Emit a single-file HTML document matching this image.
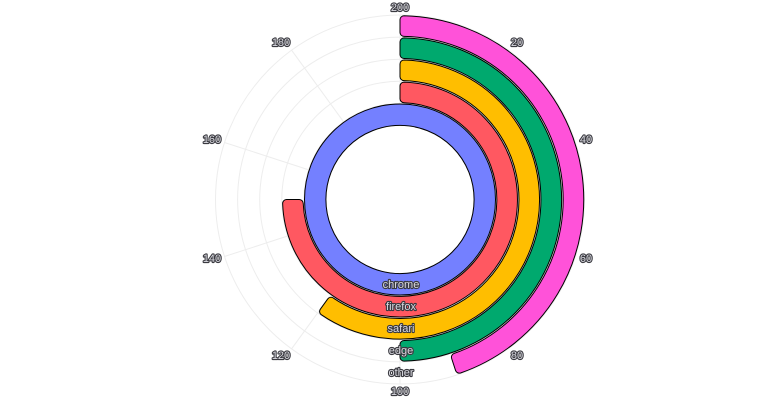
<!DOCTYPE html>
<html>
<head>
<meta charset="utf-8">
<style>
  html, body { margin: 0; padding: 0; background: #ffffff; }
  body { width: 784px; height: 400px; overflow: hidden; }
  svg { display: block; }
  .lbl { font-family: "Liberation Sans", Arial, sans-serif; font-size: 11px; fill: #d9d9e0; stroke: #3a3a40; stroke-width: 2.2px; paint-order: stroke; stroke-linejoin: round; }
</style>
</head>
<body>
<svg width="784" height="400" viewBox="0 0 784 400" xmlns="http://www.w3.org/2000/svg">
  <!-- grid circles -->
  <g fill="none" stroke="#ededed" stroke-width="1">
    <circle cx="400" cy="199.5" r="74"/>
    <circle cx="400" cy="199.5" r="96.1"/>
    <circle cx="400" cy="199.5" r="118.2"/>
    <circle cx="400" cy="199.5" r="140.3"/>
    <circle cx="400" cy="199.5" r="162.4"/>
    <circle cx="400" cy="199.5" r="184.5"/>
  </g>
  <!-- radial split lines every 36deg from r=74 to r=184.5 -->
  <g stroke="#ededed" stroke-width="1">
    <line x1="400" y1="125.5" x2="400" y2="15"/>
    <line x1="443.5" y1="139.6" x2="508.4" y2="50.2"/>
    <line x1="470.4" y1="176.6" x2="575.5" y2="142.5"/>
    <line x1="470.4" y1="222.4" x2="575.5" y2="256.5"/>
    <line x1="443.5" y1="259.4" x2="508.4" y2="348.8"/>
    <line x1="400" y1="273.5" x2="400" y2="384"/>
    <line x1="356.5" y1="259.4" x2="291.6" y2="348.8"/>
    <line x1="329.6" y1="222.4" x2="224.5" y2="256.5"/>
    <line x1="329.6" y1="176.6" x2="224.5" y2="142.5"/>
    <line x1="356.5" y1="139.6" x2="291.6" y2="50.2"/>
  </g>

  <!-- chrome: full ring -->
  <circle cx="400" cy="199.5" r="84.8" fill="none" stroke="#7480ff" stroke-width="21.4"/>
  <circle cx="400" cy="199.5" r="95.5" fill="none" stroke="#000" stroke-width="1"/>
  <circle cx="400" cy="199.5" r="74.1" fill="none" stroke="#000" stroke-width="1"/>

  <!-- firefox: 0 -> 150 -->
  <path fill="#ff5861" stroke="#000" stroke-width="1" stroke-linejoin="round"
    d="M404.00,82.12 A117.45,117.45 0 1 1 282.62,203.50 A4,4 0 0 1 286.55,199.5 L299.15,199.5 A4,4 0 0 1 303.23,203.50 A96.85,96.85 0 1 0 404.00,102.73 A4,4 0 0 1 400,98.65 L400,86.05 A4,4 0 0 1 404.00,82.12 Z"/>

  <!-- safari: 0 -> 120 -->
  <path fill="#ffbe00" stroke="#000" stroke-width="1" stroke-linejoin="round"
    d="M404.00,60.01 A139.55,139.55 0 1 1 321.24,314.71 A4,4 0 0 1 320.33,309.16 L327.73,298.97 A4,4 0 0 1 333.36,298.03 A118.95,118.95 0 1 0 404.00,80.62 A4,4 0 0 1 400,76.55 L400,63.95 A4,4 0 0 1 404.00,60.01 Z"/>

  <!-- edge: 0 -> 100 -->
  <path fill="#00a96e" stroke="#000" stroke-width="1" stroke-linejoin="round"
    d="M404.00,37.90 A161.65,161.65 0 0 1 404.00,361.10 A4,4 0 0 1 400,357.15 L400,344.55 A4,4 0 0 1 404.00,340.49 A141.05,141.05 0 0 0 404.00,58.51 A4,4 0 0 1 400,54.45 L400,41.85 A4,4 0 0 1 404.00,37.90 Z"/>

  <!-- other: 0 -> 90 -->
  <path fill="#ff52d9" stroke="#000" stroke-width="1" stroke-linejoin="round"
    d="M404.00,15.79 A183.75,183.75 0 0 1 460.57,372.98 A4,4 0 0 1 455.55,370.45 L451.65,358.47 A4,4 0 0 1 454.21,353.39 A163.15,163.15 0 0 0 404.00,36.40 A4,4 0 0 1 400,32.35 L400,19.75 A4,4 0 0 1 404.00,15.79 Z"/>

  <!-- angle axis labels -->
  <g class="lbl" text-anchor="middle" dominant-baseline="central">
    <text x="400" y="8">200</text>
    <text x="517" y="43">20</text>
    <text x="586" y="140">40</text>
    <text x="586" y="259">60</text>
    <text x="517" y="356">80</text>
    <text x="400" y="392">100</text>
    <text x="281" y="356">120</text>
    <text x="212" y="259">140</text>
    <text x="212" y="140">160</text>
    <text x="281" y="43">180</text>
  </g>

  <!-- radius axis labels -->
  <g class="lbl" text-anchor="middle" dominant-baseline="central">
    <text x="401" y="285">chrome</text>
    <text x="401" y="307">firefox</text>
    <text x="401" y="329">safari</text>
    <text x="401" y="351">edge</text>
    <text x="401" y="373">other</text>
  </g>
</svg>
</body>
</html>
